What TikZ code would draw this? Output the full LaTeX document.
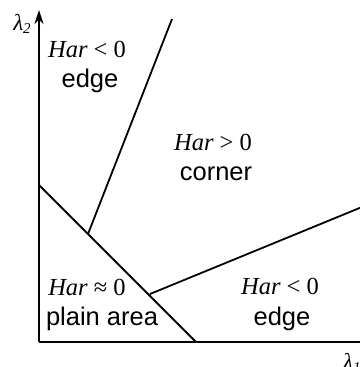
\documentclass[tikz,border=0pt]{standalone}
\usepackage{fontspec}
\setmainfont{Liberation Serif}
\newfontfamily\arial{Liberation Sans}
\usetikzlibrary{arrows.meta}
\tikzset{
  ser/.style={font=\fontsize{24.5}{26}\selectfont, inner sep=0pt},
  san/.style={font=\arial\fontsize{25.5}{27}\selectfont, inner sep=0pt},
  axis/.style={line width=2.4pt},
  bnd/.style={line width=1.8pt},
  lam/.style={font=\fontsize{23}{25}\selectfont, inner sep=0pt}
}
\begin{document}
\begin{tikzpicture}[x=1pt,y=-1pt]
\useasboundingbox (0,0) rectangle (359,367);
\coordinate (O) at (39,342);
\coordinate (Ytop) at (39,10);
\coordinate (Xend) at (362,342);
\coordinate (Dtop) at (39,185);
\coordinate (Dbot) at (196,342);
\coordinate (Etop) at (172,19);
\coordinate (Ebot) at (88,234);
\coordinate (Rleft) at (150,294);
\coordinate (Rright) at (362,207);
\draw[axis,-{Stealth[length=14pt,width=9pt]}] (O) -- (Ytop);
\draw[axis] (O) -- (Xend);
\draw[bnd] (Dtop) -- (Dbot);
\draw[bnd] (Etop) -- (Ebot);
\draw[bnd] (Rleft) -- (Rright);
\node[lam] (l2) at (22,24) {\textit{λ}\raisebox{-0.35ex}{\fontsize{15}{16}\selectfont\textit{2}}};
\node[lam,anchor=west] (l1) at (343,363) {\textit{λ}\raisebox{-0.35ex}{\fontsize{15}{16}\selectfont\textit{1}}};
\node[ser] (h1) at (87,49) {\textit{Har} < 0};
\node[san] (e1) at (90,81) {edge};
\node[ser] (h2) at (213,142) {\textit{Har} > 0};
\node[san] (c2) at (216,174) {corner};
\node[ser] (h3) at (87,287) {\textit{Har} ≈ 0};
\node[san] (p3) at (102,319) {plain area};
\node[ser] (h4) at (280,286) {\textit{Har} < 0};
\node[san] (e4) at (282,319) {edge};
\end{tikzpicture}
\end{document}
